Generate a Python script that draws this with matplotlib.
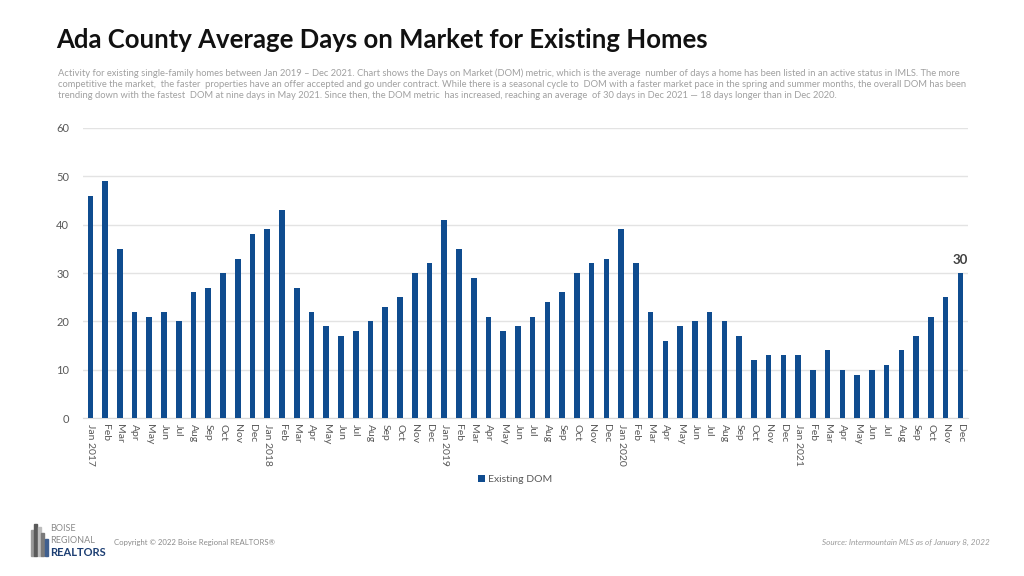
import matplotlib
matplotlib.use("Agg")
import matplotlib.pyplot as plt
from matplotlib.patches import Rectangle

plt.rcParams['font.family'] = ['Lato', 'DejaVu Sans']

months = ["Jan", "Feb", "Mar", "Apr", "May", "Jun", "Jul", "Aug", "Sep", "Oct", "Nov", "Dec"]
years = [2017, 2018, 2019, 2020, 2021]
labels = []
for y in years:
    for m in months:
        labels.append(f"Jan {y}" if m == "Jan" else m)

dom_2017 = [46, 49, 35, 22, 21, 22, 20, 26, 27, 30, 33, 38]
dom_2018 = [39, 43, 27, 22, 19, 17, 18, 20, 23, 25, 30, 32]
dom_2019 = [41, 35, 29, 21, 18, 19, 21, 24, 26, 30, 32, 33]
dom_2020 = [39, 32, 22, 16, 19, 20, 22, 20, 17, 12, 13, 13]
dom_2021 = [13, 10, 14, 10, 9, 10, 11, 14, 17, 21, 25, 30]
values = dom_2017 + dom_2018 + dom_2019 + dom_2020 + dom_2021

bar_color = "#0f4c8f"

fig = plt.figure(figsize=(10.24, 5.76), dpi=100)
ax = fig.add_axes([0.081, 0.274, 0.864, 0.504])
x = list(range(len(values)))
ax.bar(x, values, width=0.38, color=bar_color, label="Existing DOM", zorder=3)
ax.set_xlim(-0.5, len(values) - 0.5)
ax.set_ylim(0, 60)
ax.set_yticks(range(0, 61, 10))
ax.grid(axis='y', color="#e3e3e3", linewidth=1, zorder=0)
for s in ["top", "right", "left"]:
    ax.spines[s].set_visible(False)
ax.spines["bottom"].set_color("#d9d9d9")
ax.tick_params(axis='y', length=0, labelsize=8, labelcolor="#595959", pad=10)
ax.tick_params(axis='x', length=0, labelsize=7.5, labelcolor="#595959", pad=4)
ax.set_xticks(x)
ax.set_xticklabels(labels, rotation=-90, va='top', ha='center')
ax.annotate(str(values[-1]), (x[-1], values[-1]), xytext=(0, 5), textcoords="offset points",
            ha='center', va='bottom', fontsize=9.5, fontweight='bold', color="#404040")

leg = fig.legend(loc='center', bbox_to_anchor=(0.503, 0.167), frameon=False, fontsize=7.5,
                 handlelength=0.7, handleheight=0.7, handletextpad=0.3)
for t in leg.get_texts():
    t.set_color("#595959")

fig.text(0.055, 0.93, "Ada County Average Days on Market for Existing Homes", fontsize=18.5,
         fontweight='bold', color="#111111", va='center', ha='left')
sub = ("Activity for existing single-family homes between Jan 2019 \u2013 Dec 2021. Chart shows the Days on Market (DOM) metric, which is the average  number of days a home has been listed in an active status in IMLS. The more\n"
       "competitive the market,  the faster  properties have an offer accepted and go under contract. While there is a seasonal cycle to  DOM with a faster market pace in the spring and summer months, the overall DOM has been\n"
       "trending down with the fastest  DOM at nine days in May 2021. Since then, the DOM metric  has increased, reaching an average  of 30 days in Dec 2021 \u2014 18 days longer than in Dec 2020.")
fig.text(0.057, 0.882, sub, fontsize=6.75, color="#a0a0a0", va='top', ha='left', linespacing=1.3)

# footer logo approximation
logo_cols = ["#9a9a9a", "#5a5a5a", "#bdbdbd", "#7a7a7a", "#3f5f8f"]
hts = [0.045, 0.055, 0.05, 0.04, 0.03]
for i, (c, h) in enumerate(zip(logo_cols, hts)):
    fig.patches.append(Rectangle((0.030 + i * 0.0035, 0.035), 0.0028, h, transform=fig.transFigure,
                                 color=c, zorder=5))
fig.text(0.049, 0.082, "BOISE", fontsize=6.5, color="#8a8a8a", va='center', ha='left')
fig.text(0.049, 0.062, "REGIONAL", fontsize=6.5, color="#8a8a8a", va='center', ha='left')
fig.text(0.049, 0.040, "REALTORS", fontsize=8, fontweight='bold', color="#1d3f73", va='center', ha='left')
fig.text(0.111, 0.059, "Copyright \u00a9 2022 Boise Regional REALTORS\u00ae", fontsize=5.6, color="#8a8a8a",
         va='center', ha='left')
fig.text(0.967, 0.059, "Source: Intermountain MLS as of January 8, 2022", fontsize=5.9, color="#9a9a9a",
         va='center', ha='right', style='italic')

fig.savefig("out.png", dpi=100)
